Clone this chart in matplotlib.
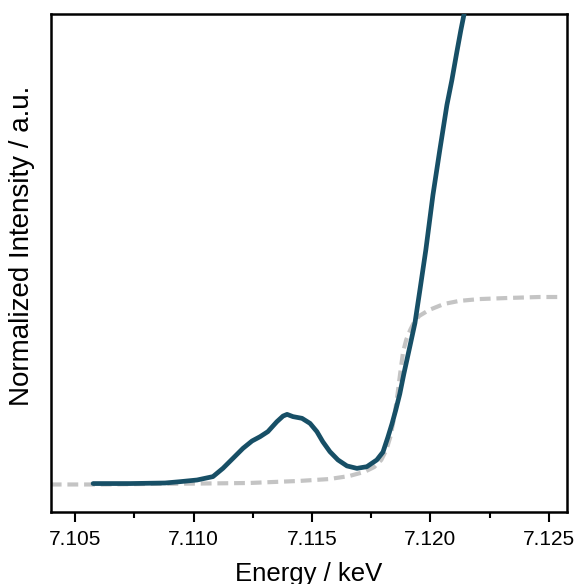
import matplotlib
matplotlib.use("Agg")
import matplotlib.pyplot as plt
from matplotlib.ticker import MultipleLocator

plt.rcParams['font.family'] = ['Liberation Sans', 'DejaVu Sans']

# Measured pre-edge / edge spectrum (energy in keV, normalized intensity)
energy = [7.10576, 7.10732, 7.10880, 7.10943, 7.11015, 7.11082, 7.11124,
          7.11167, 7.11209, 7.11247, 7.11281, 7.11314, 7.11352, 7.11378,
          7.11395, 7.11420, 7.11458, 7.11492, 7.11521, 7.11546, 7.11576,
          7.11610, 7.11648, 7.11690, 7.11732, 7.11774, 7.11800, 7.11821,
          7.11838, 7.11854, 7.11871, 7.11888, 7.11913, 7.11935, 7.11956,
          7.11981, 7.12011, 7.12040, 7.12070, 7.12091, 7.12112, 7.12129,
          7.12146, 7.12167]
intensity = [0.005, 0.005, 0.008, 0.015, 0.024, 0.042, 0.086,
             0.140, 0.193, 0.232, 0.255, 0.282, 0.335, 0.365,
             0.374, 0.362, 0.353, 0.326, 0.282, 0.228, 0.175,
             0.131, 0.099, 0.086, 0.095, 0.131, 0.173, 0.253,
             0.323, 0.397, 0.483, 0.589, 0.733, 0.861, 1.037,
             1.251, 1.544, 1.784, 2.024, 2.157, 2.307, 2.424,
             2.531, 2.664]

# Edge-step background
bg_energy = [7.10397, 7.10604, 7.10815, 7.11025, 7.11236, 7.11447, 7.11573,
             7.11657, 7.11721, 7.11763, 7.11793, 7.11814, 7.11831, 7.11847,
             7.11860, 7.11873, 7.11885, 7.11898, 7.11915, 7.11932, 7.11953,
             7.11995, 7.12058, 7.12121, 7.12206, 7.12332, 7.12459, 7.12551]
bg_intensity = [0.0, 0.0, 0.003, 0.005, 0.008, 0.019, 0.029,
                0.045, 0.067, 0.093, 0.131, 0.184, 0.253, 0.355,
                0.467, 0.595, 0.707, 0.771, 0.824, 0.867, 0.899,
                0.931, 0.963, 0.979, 0.989, 0.995, 1.0, 1.0]

x_ticks = [7.105, 7.110, 7.115, 7.120, 7.125]
x_ticklabels = ["7.105", "7.110", "7.115", "7.120", "7.125"]

fig = plt.figure(figsize=(5.76, 5.84), dpi=100)
ax = fig.add_axes([0.0885, 0.1233, 0.8958, 0.8519])

ax.plot(bg_energy, bg_intensity, color='#c4c4c4', lw=3.0,
        linestyle=(0, (2.6, 1.4)), zorder=2)
ax.plot(energy, intensity, color='#174f66', lw=3.4,
        solid_capstyle='round', solid_joinstyle='round', zorder=3)

ax.set_xlim(7.10398, 7.12577)
ax.set_ylim(-0.1467, 2.507)

ax.set_xticks(x_ticks)
ax.set_xticklabels(x_ticklabels)
ax.xaxis.set_minor_locator(MultipleLocator(0.0025))
ax.set_yticks([])

ax.tick_params(axis='x', which='major', direction='out', length=7,
               width=1.5, labelsize=15, pad=6)
ax.tick_params(axis='x', which='minor', direction='out', length=4,
               width=1.5)

for s in ax.spines.values():
    s.set_linewidth(1.8)
    s.set_color('black')

ax.set_xlabel("Energy / keV", fontsize=18.5, labelpad=9)
ax.set_ylabel("Normalized Intensity / a.u.", fontsize=20)
ax.yaxis.set_label_coords(-0.031, 0.535)

fig.savefig("out.png", dpi=100)
